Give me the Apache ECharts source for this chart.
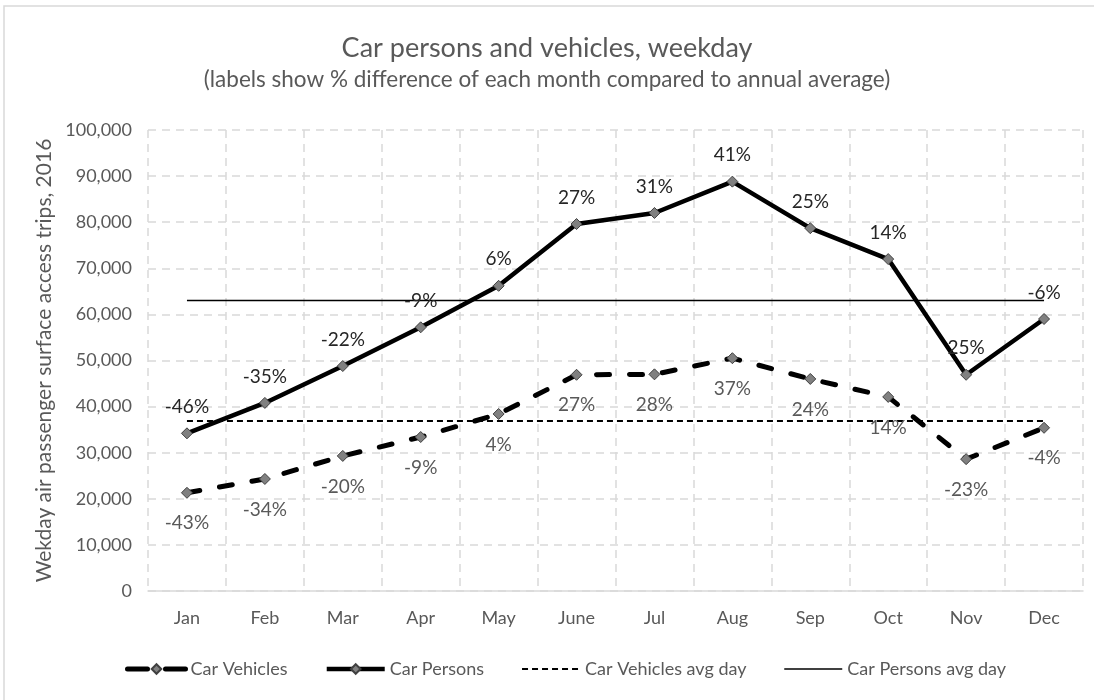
<!DOCTYPE html>
<html>
<head>
<meta charset="utf-8">
<script src="https://cdn.jsdelivr.net/npm/echarts@6/dist/echarts.min.js"></script>
<style>
  html, body { margin: 0; padding: 0; background: #fff; }
  #chart { width: 1094px; height: 700px; }
</style>
</head>
<body>
<div id="chart"></div>
<script>
  var months = ['Jan', 'Feb', 'Mar', 'Apr', 'May', 'June', 'Jul', 'Aug', 'Sep', 'Oct', 'Nov', 'Dec'];
  var carVehicles = [21300, 24300, 29300, 33400, 38400, 46900, 47000, 50500, 46000, 42100, 28600, 35400];
  var carPersons = [34200, 40800, 48800, 57200, 66200, 79600, 82000, 88800, 78700, 72000, 46900, 59000];
  var vehiclesAvg = [36900, 36900, 36900, 36900, 36900, 36900, 36900, 36900, 36900, 36900, 36900, 36900];
  var personsAvg = [63000, 63000, 63000, 63000, 63000, 63000, 63000, 63000, 63000, 63000, 63000, 63000];
  var vehiclesPct = ['-43%', '-34%', '-20%', '-9%', '4%', '27%', '28%', '37%', '24%', '14%', '-23%', '-4%'];
  var personsPct = ['-46%', '-35%', '-22%', '-9%', '6%', '27%', '31%', '41%', '25%', '14%', '25%', '-6%'];

  var FONT = 'Lato, "Open Sans", sans-serif';
  var grey = '#595959';

  var chart = echarts.init(document.getElementById('chart'));
  chart.setOption({
    backgroundColor: '#fff',
    animation: false,
    textStyle: { fontFamily: FONT },
    graphic: [{
      type: 'rect',
      shape: { x: 4, y: 6, width: 1200, height: 800 },
      style: { fill: 'none', stroke: '#d9d9d9', lineWidth: 1.5 },
      silent: true
    }],
    title: {
      text: 'Car persons and vehicles, weekday',
      subtext: '(labels show % difference of each month compared to annual average)',
      left: 'center',
      top: 30,
      itemGap: 6,
      textStyle: { fontFamily: FONT, fontSize: 27, fontWeight: 'normal', color: grey },
      subtextStyle: { fontFamily: FONT, fontSize: 22.5, color: grey }
    },
    legend: {
      left: 120,
      top: 655,
      itemWidth: 58,
      itemHeight: 12,
      itemGap: 37,
      lineStyle: { width: 'inherit' },
      textStyle: { fontFamily: FONT, fontSize: 18, color: grey },
      data: [
        { name: 'Car Vehicles', lineStyle: { type: [20, 18], cap: 'round' } },
        'Car Persons',
        { name: 'Car Vehicles avg day', itemStyle: { opacity: 0 } },
        { name: 'Car Persons avg day', itemStyle: { opacity: 0 } }
      ]
    },
    grid: { left: 148, right: 11, top: 130, bottom: 109 },
    xAxis: {
      type: 'category',
      data: months,
      boundaryGap: true,
      axisLine: { lineStyle: { color: '#d9d9d9', width: 1.5 } },
      axisTick: { show: false },
      axisLabel: { fontSize: 18, color: grey, margin: 18, fontFamily: FONT },
      splitLine: { show: true, lineStyle: { color: '#d9d9d9', type: [8, 6], width: 1.5 } }
    },
    yAxis: {
      type: 'value',
      min: 0,
      max: 100000,
      interval: 10000,
      name: 'Wekday air passenger surface access trips, 2016',
      nameLocation: 'middle',
      nameRotate: 90,
      nameGap: 90,
      nameTextStyle: { fontSize: 21, color: grey, fontFamily: FONT },
      axisLine: { show: false },
      axisTick: { show: false },
      axisLabel: {
        fontSize: 18, color: grey, margin: 16, fontFamily: FONT,
        formatter: function (v) { return v.toLocaleString('en-US'); }
      },
      splitLine: { lineStyle: { color: '#d9d9d9', type: [8, 6], width: 1.5 } }
    },
    series: [{
      name: 'Car Vehicles',
      type: 'line',
      data: carVehicles,
      symbol: 'diamond',
      symbolSize: 11,
      itemStyle: { color: '#808080', borderColor: '#404040', borderWidth: 1 },
      lineStyle: { color: '#000', width: 5, type: [13, 20], cap: 'round' },
      label: {
        show: true,
        position: 'bottom',
        distance: 15,
        fontSize: 19,
        color: grey,
        fontFamily: FONT,
        formatter: function (p) { return vehiclesPct[p.dataIndex]; }
      },
      z: 3
    }, {
      name: 'Car Persons',
      type: 'line',
      data: carPersons,
      symbol: 'diamond',
      symbolSize: 11,
      itemStyle: { color: '#808080', borderColor: '#404040', borderWidth: 1 },
      lineStyle: { color: '#000', width: 4.5 },
      label: {
        show: true,
        position: 'top',
        distance: 11,
        fontSize: 19,
        color: '#262626',
        fontFamily: FONT,
        formatter: function (p) { return personsPct[p.dataIndex]; }
      },
      z: 4
    }, {
      name: 'Car Vehicles avg day',
      type: 'line',
      data: vehiclesAvg,
      symbol: 'none',
      itemStyle: { color: '#000' },
      lineStyle: { color: '#000', width: 2, type: [6, 4] },
      z: 2
    }, {
      name: 'Car Persons avg day',
      type: 'line',
      data: personsAvg,
      symbol: 'none',
      itemStyle: { color: '#000' },
      lineStyle: { color: '#000', width: 1.5 },
      z: 2
    }]
  });
</script>
</body>
</html>
